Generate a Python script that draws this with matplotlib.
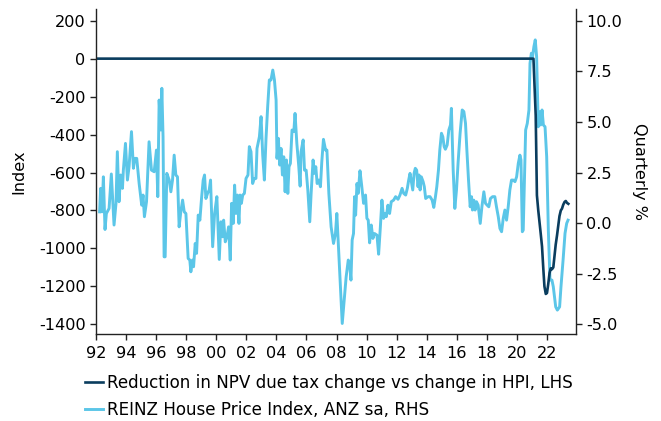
import matplotlib
matplotlib.use("Agg")
import matplotlib.pyplot as plt
import numpy as np

plt.rcParams['font.family'] = ['DejaVu Sans']
plt.rcParams['axes.unicode_minus'] = False

# Dark series: reduction in NPV (LHS, index), decimal years
npv_years = [1992.0, 2021.1, 2021.25, 2021.33, 2021.42, 2021.5, 2021.58, 2021.67, 2021.75,
             2021.83, 2021.92, 2022.0, 2022.08, 2022.17, 2022.25, 2022.33, 2022.42, 2022.5,
             2022.58, 2022.67, 2022.75, 2022.83, 2022.92, 2023.0, 2023.08, 2023.17, 2023.25,
             2023.33, 2023.42]
npv_values = [0, 0, -300, -720, -800, -860, -920, -990, -1100,
              -1200, -1240, -1235, -1190, -1130, -1105, -1110, -1100, -1040,
              -980, -930, -880, -830, -800, -790, -770, -755, -750,
              -760, -765]

# Light series: REINZ HPI quarterly % change (RHS)
hpi_years = [
    1992.24, 1992.31, 1992.40, 1992.49, 1992.60, 1992.69, 1992.87, 1993.02, 1993.20, 1993.33,
    1993.42, 1993.53, 1993.64, 1993.76, 1993.82, 1993.96, 1994.09, 1994.20, 1994.36, 1994.49,
    1994.58, 1994.71, 1994.87, 1995.04, 1995.13, 1995.22, 1995.36, 1995.53, 1995.69, 1995.87,
    1996.02, 1996.11, 1996.20, 1996.31, 1996.38, 1996.46, 1996.53, 1996.60, 1996.71, 1996.87,
    1996.98, 1997.09, 1997.20, 1997.31, 1997.42, 1997.53, 1997.64, 1997.76, 1997.87, 1997.98,
    1998.13, 1998.24, 1998.31, 1998.42, 1998.49, 1998.60, 1998.69, 1998.80, 1998.91, 1999.02,
    1999.13, 1999.22, 1999.31, 1999.42, 1999.53, 1999.62, 1999.76, 1999.89, 2000.04, 2000.20,
    2000.31, 2000.42, 2000.49, 2000.60, 2000.73, 2000.82, 2000.93, 2001.02, 2001.13, 2001.22,
    2001.31, 2001.40, 2001.51, 2001.58, 2001.67, 2001.76, 2001.87, 2001.98, 2002.11, 2002.20,
    2002.31, 2002.42, 2002.53, 2002.64, 2002.71, 2002.87, 2002.98, 2003.09, 2003.20, 2003.31,
    2003.42, 2003.53, 2003.64, 2003.76, 2003.87, 2003.98, 2004.04, 2004.13, 2004.22, 2004.31,
    2004.40, 2004.49, 2004.58, 2004.67, 2004.76, 2004.84, 2004.93, 2005.04, 2005.16, 2005.24,
    2005.36, 2005.49, 2005.58, 2005.64, 2005.78, 2005.87, 2005.98, 2006.09, 2006.22, 2006.31,
    2006.44, 2006.53, 2006.62, 2006.71, 2006.82, 2006.93, 2007.02, 2007.13, 2007.27, 2007.36,
    2007.49, 2007.64, 2007.80, 2007.93, 2008.02, 2008.13, 2008.24, 2008.38, 2008.51, 2008.64,
    2008.78, 2008.87, 2008.96, 2009.04, 2009.13, 2009.20, 2009.27, 2009.36, 2009.44, 2009.56,
    2009.67, 2009.80, 2009.93, 2010.02, 2010.11, 2010.20, 2010.31, 2010.42, 2010.53, 2010.69,
    2010.80, 2010.91, 2011.02, 2011.13, 2011.22, 2011.31, 2011.42, 2011.53, 2011.64, 2011.80,
    2011.93, 2012.09, 2012.22, 2012.36, 2012.47, 2012.60, 2012.71, 2012.80, 2012.89, 2012.98,
    2013.07, 2013.16, 2013.24, 2013.33, 2013.42, 2013.49, 2013.56, 2013.64, 2013.76, 2013.84,
    2013.93, 2014.09, 2014.22, 2014.36, 2014.47, 2014.58, 2014.67, 2014.78, 2014.87, 2014.98,
    2015.07, 2015.16, 2015.24, 2015.36, 2015.47, 2015.58, 2015.64, 2015.76, 2015.87, 2015.98,
    2016.09, 2016.22, 2016.36, 2016.47, 2016.58, 2016.67, 2016.78, 2016.89, 2016.98, 2017.04,
    2017.13, 2017.22, 2017.31, 2017.42, 2017.56, 2017.67, 2017.80, 2017.91, 2018.02, 2018.13,
    2018.24, 2018.38, 2018.53, 2018.64, 2018.76, 2018.87, 2018.98, 2019.09, 2019.20, 2019.31,
    2019.42, 2019.53, 2019.64, 2019.76, 2019.87, 2019.98, 2020.09, 2020.20, 2020.27, 2020.36,
    2020.42, 2020.49, 2020.58, 2020.69, 2020.80, 2020.87, 2020.96, 2021.04, 2021.13, 2021.22,
    2021.31, 2021.42, 2021.49, 2021.58, 2021.67, 2021.76, 2021.87, 2021.98, 2022.09, 2022.20,
    2022.33, 2022.42, 2022.58, 2022.69, 2022.84, 2022.93, 2023.07, 2023.20, 2023.31, 2023.40]
hpi_values = [
    0.56, 1.72, 0.56, 2.29, -0.31, 0.48, 0.73, 2.43, -0.09, 0.98,
    3.53, 1.06, 2.38, 1.72, 2.62, 3.94, 2.13, 2.79, 4.52, 2.71,
    3.20, 3.20, 1.96, 0.89, 1.39, 0.32, 1.06, 4.02, 2.62, 2.54,
    3.61, 1.31, 6.08, 4.60, 6.66, 4.27, -1.66, -1.66, 2.46, 2.13,
    1.55, 2.13, 3.36, 2.38, 2.29, -0.18, 0.56, 1.14, 0.56, 0.48,
    -1.74, -1.82, -2.40, -1.82, -2.15, -1.00, -1.49, 0.40, 0.15, 1.22,
    2.13, 2.38, 1.22, 1.47, 1.64, 2.13, -1.16, 0.48, 1.31, -1.79,
    0.07, -0.67, 0.15, -0.92, -0.59, -0.18, -1.82, 0.98, -0.01, 1.88,
    0.48, 1.39, -0.01, 1.39, 0.98, 1.39, 1.47, 2.21, 2.38, 3.78,
    3.53, 1.96, 2.21, 2.21, 3.69, 4.27, 5.26, 3.36, 2.13, 4.19,
    5.75, 7.07, 7.07, 7.56, 7.07, 6.08, 3.20, 4.19, 2.87, 3.69,
    2.38, 3.28, 1.55, 3.12, 1.47, 2.79, 2.95, 4.60, 4.52, 5.42,
    3.94, 2.79, 1.83, 3.53, 4.11, 2.62, 2.62, 1.64, 0.07, 1.47,
    3.12, 2.46, 2.79, 1.96, 2.13, 1.80, 3.03, 4.14, 3.61, 3.61,
    1.47, -0.18, -1.00, -0.51, 0.48, -1.16, -2.81, -4.95, -3.80, -2.65,
    -1.82, -1.99, -2.81, -0.83, -0.51, 1.31, 0.40, 1.96, 1.47, 2.59,
    1.88, 0.98, 1.39, 0.24, 0.15, -0.97, -0.09, -0.75, -0.51, -0.59,
    -1.53, -0.26, 1.14, 0.24, 0.48, 0.32, 0.89, 0.48, 1.06, 1.14,
    1.31, 1.18, 1.39, 1.72, 1.47, 1.39, 1.72, 2.13, 2.46, 2.05,
    1.64, 2.46, 2.71, 2.62, 1.80, 2.38, 1.64, 2.29, 2.05, 1.80,
    1.22, 1.31, 1.31, 1.14, 0.78, 1.31, 1.80, 2.62, 3.61, 4.44,
    4.27, 3.78, 3.65, 3.86, 4.60, 4.85, 5.67, 2.62, 0.73, 1.64,
    3.03, 4.44, 5.59, 5.51, 4.93, 3.61, 2.13, 0.81, 1.31, 0.65,
    1.14, 0.65, 1.06, 0.89, -0.01, 0.81, 1.55, 0.98, 0.89, 0.81,
    1.22, 1.31, 1.31, 0.81, 0.32, -0.26, -0.42, 0.24, 0.65, 0.15,
    0.81, 1.64, 2.13, 2.13, 2.05, 2.29, 2.95, 3.36, 3.12, -0.42,
    -0.34, 1.80, 4.60, 4.93, 5.59, 7.89, 8.39, 8.22, 8.72, 9.05,
    8.22, 4.76, 5.50, 4.85, 5.59, 4.85, 4.76, 3.28, -0.34, -2.81,
    -2.81, -3.14, -4.13, -4.29, -4.13, -3.14, -1.82, -0.50, -0.01, 0.15]

x_ticks = list(range(1992, 2023, 2))
x_tick_labels = [f"{y % 100:02d}" for y in x_ticks]
left_ticks = list(range(-1400, 201, 200))
right_ticks = [-5.0, -2.5, 0.0, 2.5, 5.0, 7.5, 10.0]

dark = '#0a3d5e'
light = '#5bc6e8'

fig = plt.figure(figsize=(6.61, 4.21), dpi=100)
ax = fig.add_axes([96/661, 1 - 334/421, (576 - 96)/661, (334 - 9.3)/421])
ax2 = ax.twinx()

l2, = ax2.plot(hpi_years, hpi_values, color=light, lw=2.1, solid_joinstyle='round',
               label='REINZ House Price Index, ANZ sa, RHS')
l1, = ax.plot(npv_years, npv_values, color=dark, lw=1.9, solid_joinstyle='round',
              label='Reduction in NPV due tax change vs change in HPI, LHS')

ax.set_zorder(ax2.get_zorder() + 1)
ax.patch.set_visible(False)

ax.set_xlim(1992, 2023.93)
ax.set_ylim(-1451, 260)
ax2.set_ylim(-5.47, 10.56)

ax.set_xticks(x_ticks)
ax.set_xticklabels(x_tick_labels)
ax.set_yticks(left_ticks)
ax.set_yticklabels([str(v) for v in left_ticks])
ax2.set_yticks(right_ticks)
ax2.set_yticklabels([f"{v:.1f}" for v in right_ticks])

fs = 11.6
for a in (ax, ax2):
    a.spines['top'].set_visible(False)
    for s in a.spines.values():
        s.set_color('#222222')
        s.set_linewidth(1.0)
    a.tick_params(labelsize=fs, length=4, width=1, color='#222222', direction='out')
ax.tick_params(axis='x', pad=5)
ax.spines['right'].set_visible(False)
ax2.spines['left'].set_visible(False)
ax2.spines['bottom'].set_visible(False)

ax.set_ylabel('Index', fontsize=fs, labelpad=9)
ax2.set_ylabel('Quarterly %', fontsize=fs, rotation=270, labelpad=18)

fig.legend(handles=[l1, l2], loc='upper left', bbox_to_anchor=(80/661, 1 - 369/421),
           frameon=False, fontsize=12.1, handlelength=1.08, handletextpad=0.22,
           labelspacing=0.52, borderaxespad=0, borderpad=0.3)

fig.savefig('out.png', dpi=100)
